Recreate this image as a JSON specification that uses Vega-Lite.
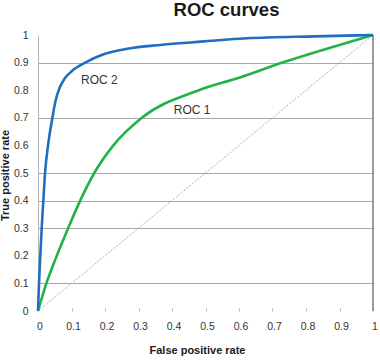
{
  "$schema": "https://vega.github.io/schema/vega-lite/v6.json",
  "width": 335,
  "height": 276,
  "autosize": {"type": "none"},
  "padding": {"left": 38, "top": 35, "right": 7, "bottom": 52},
  "background": "white",
  "title": {
    "text": "ROC curves",
    "font": "Liberation Sans",
    "fontSize": 18.5,
    "fontWeight": "bold",
    "color": "#1a1a1a",
    "anchor": "middle",
    "frame": "group",
    "dx": 21,
    "baseline": "alphabetic",
    "offset": -5
  },
  "config": {
    "view": {"stroke": null},
    "font": "Liberation Sans",
    "axis": {
      "labelFont": "Liberation Sans",
      "titleFont": "Liberation Sans",
      "labelFontSize": 10.5,
      "labelColor": "#333333",
      "titleFontSize": 11,
      "titleFontWeight": "bold",
      "titleColor": "#1a1a1a"
    }
  },
  "datasets": {
    "curves": [
      {"series": "ROC 1", "fpr": 0, "tpr": 0},
      {"series": "ROC 1", "fpr": 0.025, "tpr": 0.1},
      {"series": "ROC 1", "fpr": 0.056, "tpr": 0.2},
      {"series": "ROC 1", "fpr": 0.09, "tpr": 0.3},
      {"series": "ROC 1", "fpr": 0.126, "tpr": 0.4},
      {"series": "ROC 1", "fpr": 0.168, "tpr": 0.5},
      {"series": "ROC 1", "fpr": 0.225, "tpr": 0.6},
      {"series": "ROC 1", "fpr": 0.31, "tpr": 0.7},
      {"series": "ROC 1", "fpr": 0.48, "tpr": 0.8},
      {"series": "ROC 1", "fpr": 0.6, "tpr": 0.845},
      {"series": "ROC 1", "fpr": 0.73, "tpr": 0.9},
      {"series": "ROC 1", "fpr": 0.87, "tpr": 0.953},
      {"series": "ROC 1", "fpr": 1, "tpr": 1},
      {"series": "ROC 2", "fpr": 0, "tpr": 0},
      {"series": "ROC 2", "fpr": 0.003, "tpr": 0.1},
      {"series": "ROC 2", "fpr": 0.007, "tpr": 0.2},
      {"series": "ROC 2", "fpr": 0.011, "tpr": 0.3},
      {"series": "ROC 2", "fpr": 0.016, "tpr": 0.4},
      {"series": "ROC 2", "fpr": 0.021, "tpr": 0.5},
      {"series": "ROC 2", "fpr": 0.03, "tpr": 0.6},
      {"series": "ROC 2", "fpr": 0.043, "tpr": 0.7},
      {"series": "ROC 2", "fpr": 0.052, "tpr": 0.76},
      {"series": "ROC 2", "fpr": 0.065, "tpr": 0.81},
      {"series": "ROC 2", "fpr": 0.08, "tpr": 0.843},
      {"series": "ROC 2", "fpr": 0.1, "tpr": 0.868},
      {"series": "ROC 2", "fpr": 0.141, "tpr": 0.9},
      {"series": "ROC 2", "fpr": 0.196, "tpr": 0.93},
      {"series": "ROC 2", "fpr": 0.266, "tpr": 0.95},
      {"series": "ROC 2", "fpr": 0.365, "tpr": 0.964},
      {"series": "ROC 2", "fpr": 0.455, "tpr": 0.973},
      {"series": "ROC 2", "fpr": 0.625, "tpr": 0.988},
      {"series": "ROC 2", "fpr": 0.825, "tpr": 0.995},
      {"series": "ROC 2", "fpr": 1, "tpr": 1}
    ],
    "diagonal": [
      {"fpr": 0, "tpr": 0},
      {"fpr": 1, "tpr": 1}
    ],
    "labels": [
      {"label": "ROC 2", "fpr": 0.183, "tpr": 0.838},
      {"label": "ROC 1", "fpr": 0.46, "tpr": 0.729}
    ]
  },
  "encoding": {
    "x": {
      "field": "fpr",
      "type": "quantitative",
      "scale": {"domain": [0, 1], "nice": false},
      "axis": {
        "title": "False positive rate",
        "values": [0, 0.1, 0.2, 0.3, 0.4, 0.5, 0.6, 0.7, 0.8, 0.9, 1],
        "format": "~g",
        "labelOverlap": false,
        "offset": -3,
        "domain": false,
        "grid": false,
        "ticks": true,
        "tickColor": "#b8b8b8",
        "tickSize": 3,
        "labelPadding": 10,
        "labelOffset": 1.5,
        "labelFlush": false,
        "titleX": 159,
        "titleY": 36,
        "titleAnchor": null,
        "titleAlign": "center",
        "titleBaseline": "top"
      }
    },
    "y": {
      "field": "tpr",
      "type": "quantitative",
      "scale": {"domain": [0, 1], "nice": false},
      "axis": {
        "title": "True positive rate",
        "values": [0, 0.1, 0.2, 0.3, 0.4, 0.5, 0.6, 0.7, 0.8, 0.9, 1],
        "format": "~g",
        "labelOverlap": false,
        "domain": true,
        "domainColor": "#b5b5b5",
        "ticks": false,
        "grid": true,
        "gridColor": "#a8a8a8",
        "gridWidth": 1,
        "gridOpacity": {
          "condition": {"test": "indexof([0, 2, 6, 8, 10], round(datum.value * 10)) >= 0", "value": 0},
          "value": 1
        },
        "labelPadding": 10,
        "labelFlush": false,
        "titleAngle": -90,
        "titleX": -33,
        "titleY": 140,
        "titleAlign": "center",
        "titleBaseline": "middle"
      }
    }
  },
  "layer": [
    {
      "data": {"name": "diagonal"},
      "mark": {"type": "line", "color": "#7ea2b6", "strokeWidth": 0.8, "strokeDash": [2, 1.5]}
    },
    {
      "data": {"name": "diagonal"},
      "mark": {"type": "rule", "color": "#7a7a7a", "strokeWidth": 1},
      "encoding": {
        "x": {"datum": 1, "type": "quantitative"},
        "y": {"datum": 0, "type": "quantitative"},
        "y2": {"datum": 1}
      }
    },
    {
      "data": {"name": "curves"},
      "mark": {"type": "line", "strokeWidth": 2.6, "interpolate": "monotone"},
      "encoding": {
        "color": {
          "field": "series",
          "type": "nominal",
          "scale": {"domain": ["ROC 1", "ROC 2"], "range": ["#22b24c", "#1f6fbf"]},
          "legend": null
        }
      }
    },
    {
      "data": {"name": "labels"},
      "mark": {"type": "text", "font": "Liberation Sans", "fontSize": 12, "color": "#333333", "align": "center", "baseline": "middle"},
      "encoding": {
        "text": {"field": "label", "type": "nominal"}
      }
    }
  ]
}
